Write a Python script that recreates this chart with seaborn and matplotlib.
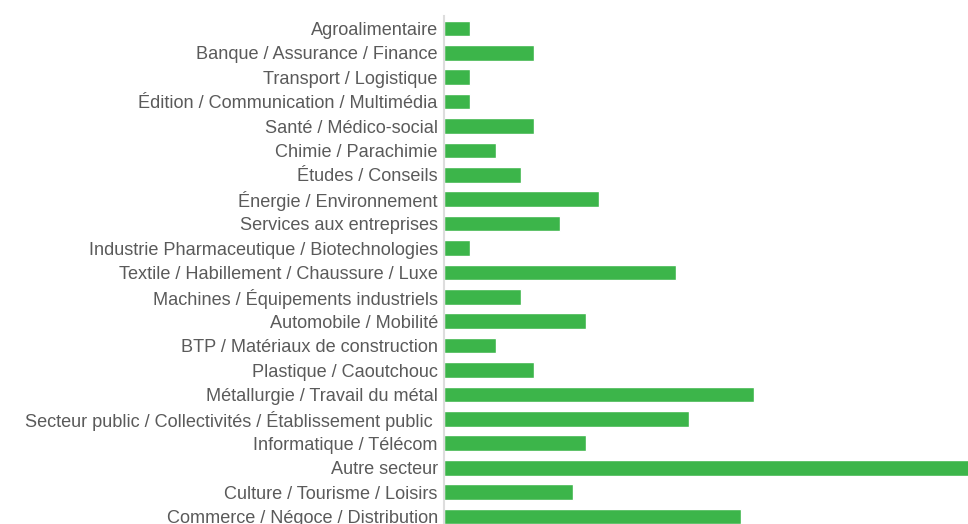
import matplotlib
matplotlib.use("Agg")
import matplotlib.pyplot as plt
import seaborn as sns
import pandas as pd

# sectors, top to bottom
sectors = [
    "Agroalimentaire",
    "Banque / Assurance / Finance",
    "Transport / Logistique",
    "Édition / Communication / Multimédia",
    "Santé / Médico-social",
    "Chimie / Parachimie",
    "Études / Conseils",
    "Énergie / Environnement",
    "Services aux entreprises",
    "Industrie Pharmaceutique / Biotechnologies",
    "Textile / Habillement / Chaussure / Luxe",
    "Machines / Équipements industriels",
    "Automobile / Mobilité",
    "BTP / Matériaux de construction",
    "Plastique / Caoutchouc",
    "Métallurgie / Travail du métal",
    "Secteur public / Collectivités / Établissement public ",
    "Informatique / Télécom",
    "Autre secteur",
    "Culture / Tourisme / Loisirs",
    "Commerce / Négoce / Distribution",
]
counts = [2, 7, 2, 2, 7, 4, 6, 12, 9, 2, 18, 6, 11, 4, 7, 24, 19, 11, 41, 10, 23]

BAR_COLOR = "#3cb54a"
TEXT_COLOR = "#5a5a5a"

sns.set_theme(style="white")
plt.rcParams["font.family"] = ["Liberation Sans Narrow", "Liberation Sans", "DejaVu Sans"]

df = pd.DataFrame({"sector": sectors, "count": counts})

fig = plt.figure(figsize=(9.68, 5.24), dpi=100)
ax = fig.add_axes([0.4587, -0.009, 0.5413, 0.978])

sns.barplot(data=df, x="count", y="sector", orient="h", color=BAR_COLOR,
            width=0.64, saturation=1, ax=ax)

# the longest bar runs past the right edge, as in the original
ax.set_xlim(0, 40.6)
ax.set_ylim(len(sectors) - 0.5, -0.5)
ax.set_xlabel("")
ax.set_ylabel("")
ax.set_xticks([])
ax.tick_params(axis="y", length=0, pad=4.5, labelsize=13.1, labelcolor=TEXT_COLOR)

for side in ["top", "right", "bottom"]:
    ax.spines[side].set_visible(False)
ax.spines["left"].set_color("#dddddd")
ax.spines["left"].set_linewidth(1.5)

fig.savefig("out.png", dpi=100)
